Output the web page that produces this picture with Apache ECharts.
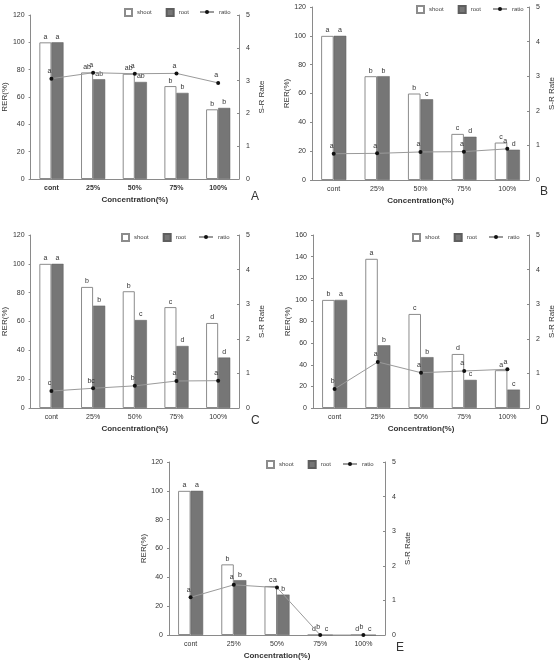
<!DOCTYPE html>
<html>
<head>
<meta charset="utf-8">
<script src="https://cdn.jsdelivr.net/npm/echarts@6/dist/echarts.min.js"></script>
<style>
html,body{margin:0;padding:0;background:#fff;}
#main{width:560px;height:664px;}
</style>
</head>
<body>
<div id="main"></div>
<script>
var categories = ['cont', '25%', '50%', '75%', '100%'];

// A
var shootA = [100, 78, 77, 68, 51];
var rootA = [100, 73, 71, 63, 52];
var ratioA = [3.06, 3.24, 3.21, 3.22, 2.93];
var shootLabA = ['a', 'ab', 'ab', 'b', 'b'];
var rootLabA = ['a', 'ab', 'ab', 'b', 'b'];
var ratioLabA = ['a', 'a', 'a', 'a', 'a'];

// B
var shootB = [100, 72, 60, 32, 26];
var rootB = [100, 72, 56, 30, 21];
var ratioB = [0.76, 0.77, 0.81, 0.82, 0.9];
var shootLabB = ['a', 'b', 'b', 'c', 'c'];
var rootLabB = ['a', 'b', 'c', 'd', 'd'];
var ratioLabB = ['a', 'a', 'a', 'a', 'a'];

// C
var shootC = [100, 84, 81, 70, 59];
var rootC = [100, 71, 61, 43, 35];
var ratioC = [0.49, 0.57, 0.64, 0.78, 0.79];
var shootLabC = ['a', 'b', 'b', 'c', 'd'];
var rootLabC = ['a', 'b', 'c', 'd', 'd'];
var ratioLabC = ['c', 'bc', 'b', 'a', 'a'];

// D
var shootD = [100, 138, 87, 50, 35];
var rootD = [100, 58, 47, 26, 17];
var ratioD = [0.55, 1.33, 1.02, 1.07, 1.12];
var shootLabD = ['b', 'a', 'c', 'd', 'a'];
var rootLabD = ['a', 'b', 'b', 'c', 'c'];
var ratioLabD = ['b', 'a', 'a', 'a', 'a'];

// E
var shootE = [100, 49, 34, 0, 0];
var rootE = [100, 38, 28, 0, 0];
var ratioE = [1.09, 1.45, 1.37, 0, 0];
var shootLabE = ['a', 'b', 'c', 'd', 'd'];
var rootLabE = ['a', 'b', 'b', 'c', 'c'];
var ratioLabE = ['a', 'a', 'a', 'b', 'b'];

var panels = [
    {tag: 'A', shoot: shootA, root: rootA, ratio: ratioA, sl: shootLabA, rl: rootLabA, ql: ratioLabA, ymax: 120,
        grid: {left: 29, top: 15, width: 210, height: 164}, legTop: 8, leg1: 124, leg2: 199, tagPos: [251, 191]},
    {tag: 'B', shoot: shootB, root: rootB, ratio: ratioB, sl: shootLabB, rl: rootLabB, ql: ratioLabB, ymax: 120,
        grid: {left: 312, top: 7, width: 217, height: 173}, legTop: 5, leg1: 416, leg2: 492, tagPos: [540, 186]},
    {tag: 'C', shoot: shootC, root: rootC, ratio: ratioC, sl: shootLabC, rl: rootLabC, ql: ratioLabC, ymax: 120,
        grid: {left: 28, top: 235, width: 211, height: 173}, legTop: 233, leg1: 121, leg2: 198, tagPos: [251, 415]},
    {tag: 'D', shoot: shootD, root: rootD, ratio: ratioD, sl: shootLabD, rl: rootLabD, ql: ratioLabD, ymax: 160,
        grid: {left: 313, top: 235, width: 216, height: 173}, legTop: 233, leg1: 412, leg2: 488, tagPos: [540, 415]},
    {tag: 'E', shoot: shootE, root: rootE, ratio: ratioE, sl: shootLabE, rl: rootLabE, ql: ratioLabE, ymax: 120,
        grid: {left: 169, top: 462, width: 216, height: 173}, legTop: 460, leg1: 266, leg2: 342, tagPos: [396, 642]}
];

var fontFam = '"Liberation Sans", Arial, sans-serif';
var axisCol = '#8a8a8a';
var textCol = '#333';

var grids = [], xAxes = [], yAxes = [], series = [], legends = [], graphics = [];

function labFn(arr) {
    return function (p) { return arr[p.dataIndex]; };
}

panels.forEach(function (pn, i) {
    grids.push(pn.grid);
    xAxes.push({
        type: 'category', gridIndex: i, data: categories,
        axisLine: {lineStyle: {color: axisCol}},
        axisTick: {length: 2, lineStyle: {color: axisCol}},
        axisLabel: {fontSize: 7, color: textCol, margin: 6, fontFamily: fontFam, fontWeight: i === 0 ? 'bold' : 'normal'},
        name: 'Concentration(%)', nameLocation: 'middle', nameGap: 17,
        nameTextStyle: {fontSize: 8, color: textCol, fontFamily: fontFam, fontWeight: 'bold'}
    });
    yAxes.push({
        type: 'value', gridIndex: i, min: 0, max: pn.ymax, interval: 20,
        axisLine: {show: true, lineStyle: {color: axisCol}},
        axisTick: {show: true, length: 2, lineStyle: {color: axisCol}},
        splitLine: {show: false},
        axisLabel: {fontSize: 7, color: textCol, margin: 6, fontFamily: fontFam},
        name: 'RER(%)', nameLocation: 'middle', nameRotate: 90, nameGap: 21,
        nameTextStyle: {fontSize: 8, color: textCol, fontFamily: fontFam}
    });
    yAxes.push({
        type: 'value', gridIndex: i, position: 'right', min: 0, max: 5, interval: 1,
        axisLine: {show: true, lineStyle: {color: axisCol}},
        axisTick: {show: true, inside: true, length: 2, lineStyle: {color: axisCol}},
        splitLine: {show: false},
        axisLabel: {fontSize: 7, color: textCol, margin: 7, fontFamily: fontFam},
        name: 'S-R Rate', nameLocation: 'middle', nameRotate: 90, nameGap: 19,
        nameTextStyle: {fontSize: 8, color: textCol, fontFamily: fontFam}
    });

    series.push({
        name: 'shoot', type: 'bar', xAxisIndex: i, yAxisIndex: 2 * i,
        barWidth: '29%', barGap: '0%', data: pn.shoot,
        itemStyle: {color: '#fff', borderColor: '#8c8c8c', borderWidth: 1},
        label: {show: true, position: 'top', distance: 2, fontSize: 7, color: textCol, fontFamily: fontFam, formatter: labFn(pn.sl)}
    });
    series.push({
        name: 'root', type: 'bar', xAxisIndex: i, yAxisIndex: 2 * i,
        barWidth: '29%', barGap: '0%', data: pn.root,
        itemStyle: {color: '#767676', borderColor: '#5e5e5e', borderWidth: 0.5},
        label: {show: true, position: 'top', distance: 2, fontSize: 7, color: textCol, fontFamily: fontFam, formatter: labFn(pn.rl)}
    });
    series.push({
        name: 'ratio', type: 'line', xAxisIndex: i, yAxisIndex: 2 * i + 1,
        data: pn.ratio, symbol: 'circle', symbolSize: 4,
        itemStyle: {color: '#111'},
        lineStyle: {color: '#9a9a9a', width: 1},
        label: {show: true, position: 'top', distance: 2, offset: [-2, 0], fontSize: 7, color: textCol, fontFamily: fontFam, formatter: labFn(pn.ql)},
        z: 5
    });

    legends.push({
        left: pn.leg1, top: pn.legTop, padding: 0, itemWidth: 7, itemHeight: 7, itemGap: 14,
        data: [{name: 'shoot', icon: 'rect'}, {name: 'root', icon: 'rect'}],
        textStyle: {fontSize: 6, color: '#444', fontFamily: fontFam}, selectedMode: false
    });
    legends.push({
        left: pn.leg2, top: pn.legTop + 1, padding: 0, data: ['ratio'], itemWidth: 14, itemHeight: 5,
        textStyle: {fontSize: 6, color: '#444', fontFamily: fontFam}, selectedMode: false
    });

    graphics.push({
        type: 'text', left: pn.tagPos[0], top: pn.tagPos[1],
        style: {text: pn.tag, fontSize: 12, fill: '#333', fontFamily: fontFam}
    });
});

var chart = echarts.init(document.getElementById('main'));
chart.setOption({
    animation: false,
    backgroundColor: '#fff',
    grid: grids,
    xAxis: xAxes,
    yAxis: yAxes,
    legend: legends,
    series: series,
    graphic: graphics
});
</script>
</body>
</html>
